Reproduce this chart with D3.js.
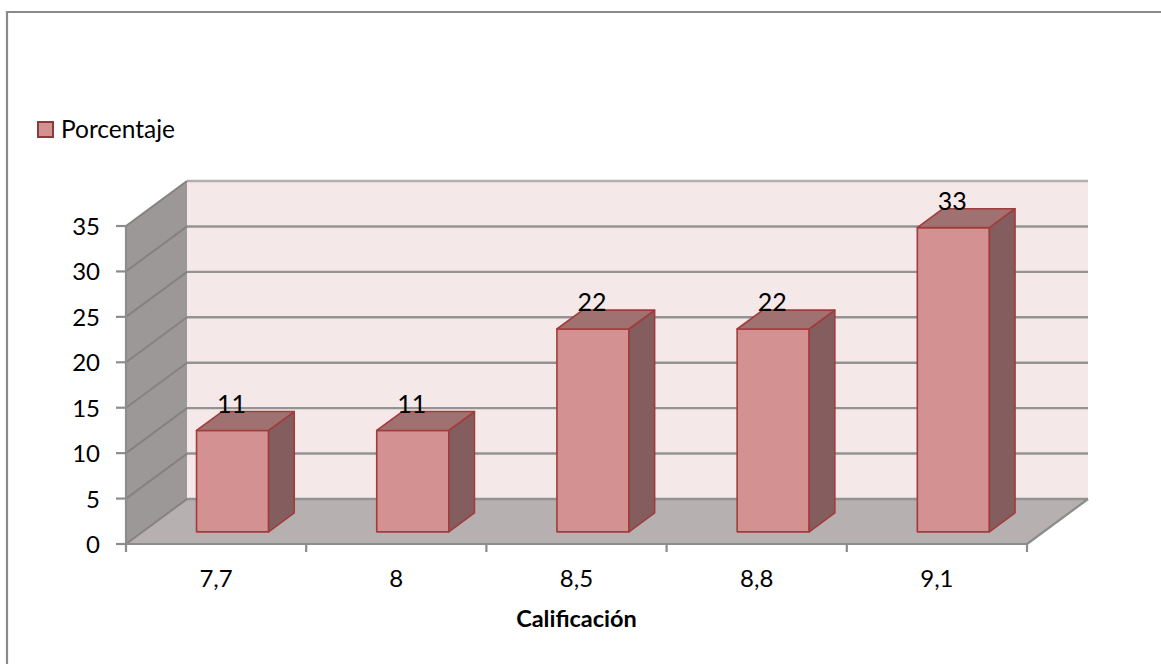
<!DOCTYPE html>
<html>
<head>
<meta charset="utf-8">
<script src="https://cdn.jsdelivr.net/npm/d3@7"></script>
<style>
  html, body { margin: 0; padding: 0; background: #ffffff; }
  svg { display: block; }
  text { font-family: Lato, "Open Sans", "Liberation Sans", sans-serif; fill: #000; }
</style>
</head>
<body>
<svg id="chart" width="1161" height="664"></svg>
<script>
// Chart data
const categories = ["7,7", "8", "8,5", "8,8", "9,1"];
const porcentaje = [11, 11, 22, 22, 33];
const yTicks = [0, 5, 10, 15, 20, 25, 30, 35];
const seriesName = "Porcentaje";
const axisTitle = "Calificación";

const svg = d3.select("#chart");

// Outer frame
svg.append("path")
  .attr("d", "M7,664 L7,12 L1161,12")
  .attr("fill", "none").attr("stroke", "#8a8a8a").attr("stroke-width", 2.2);

// Oblique 3D projection: x along the front axis, value up, depth d in [0,1] back
const DX = 61, DY = 45;
const xCat = d3.scaleBand().domain(categories).range([126, 1027]);
const xBar = d3.scaleBand().domain(categories).range([126, 1027])
  .paddingInner(0.6).paddingOuter(0.3);
const y = d3.scaleLinear().domain([0, 35]).range([544, 226]);
const yBar = d3.scaleLinear().domain([0, 35]).range([544, 544 - 35 * 9.22]);
const P = (x, yy, d) => [x + d * DX, yy - d * DY];
const poly = pts => "M" + pts.map(p => p.join(",")).join("L") + "Z";

const x0 = xCat.range()[0], x1 = xCat.range()[1];
const vMax = y.domain()[1];

// Side wall
svg.append("path")
  .attr("d", poly([P(x0, y(0), 0), P(x0, y(vMax), 0), P(x0, y(vMax), 1), P(x0, y(0), 1)]))
  .attr("fill", "#9c9898");

// Back wall
svg.append("path")
  .attr("d", poly([P(x0, y(0), 1), P(x0, y(vMax), 1), P(x1, y(vMax), 1), P(x1, y(0), 1)]))
  .attr("fill", "#f4e8e8");

// Floor
svg.append("path")
  .attr("d", poly([P(x0, y(0), 0), P(x1, y(0), 0), P(x1, y(0), 1), P(x0, y(0), 1)]))
  .attr("fill", "#b7b0b0");

// Gridlines on the back wall and the side wall
yTicks.forEach(v => {
  const a = P(x0, y(v), 1), b = P(x1, y(v), 1), c = P(x0, y(v), 0);
  svg.append("line")
    .attr("x1", a[0]).attr("y1", a[1]).attr("x2", b[0]).attr("y2", b[1])
    .attr("stroke", v === vMax ? "#b0b0b0" : "#939393").attr("stroke-width", 2.4);
  svg.append("line")
    .attr("x1", c[0]).attr("y1", c[1]).attr("x2", a[0]).attr("y2", a[1])
    .attr("stroke", "#868282").attr("stroke-width", 2);
});

// Floor edge on the right
{
  const a = P(x1, y(0), 0), b = P(x1, y(0), 1);
  svg.append("line")
    .attr("x1", a[0]).attr("y1", a[1]).attr("x2", b[0]).attr("y2", b[1])
    .attr("stroke", "#8c8c8c").attr("stroke-width", 2.2);
}

// Value axis
svg.append("line")
  .attr("x1", x0).attr("y1", y(vMax)).attr("x2", x0).attr("y2", y(0))
  .attr("stroke", "#8c8c8c").attr("stroke-width", 2.2);
const yAxis = svg.append("g");
yTicks.forEach(v => {
  yAxis.append("line")
    .attr("x1", x0 - 10).attr("y1", y(v)).attr("x2", x0).attr("y2", y(v))
    .attr("stroke", "#8c8c8c").attr("stroke-width", 2.2);
  yAxis.append("text")
    .attr("x", x0 - 26).attr("y", y(v) + 9)
    .attr("text-anchor", "end").attr("font-size", 24)
    .text(v);
});

// Category axis
svg.append("line")
  .attr("x1", x0).attr("y1", y(0)).attr("x2", x1).attr("y2", y(0))
  .attr("stroke", "#8c8c8c").attr("stroke-width", 2.2);
const tickXs = categories.map(c => xCat(c)).concat([x1]);
tickXs.forEach(tx => {
  svg.append("line")
    .attr("x1", tx).attr("y1", y(0)).attr("x2", tx).attr("y2", y(0) + 8)
    .attr("stroke", "#8c8c8c").attr("stroke-width", 2.2);
});
categories.forEach(c => {
  svg.append("text")
    .attr("x", xCat(c) + xCat.bandwidth() / 2).attr("y", 587)
    .attr("text-anchor", "middle").attr("font-size", 24)
    .text(c);
});
svg.append("text")
  .attr("x", (x0 + x1) / 2).attr("y", 627)
  .attr("text-anchor", "middle").attr("font-size", 23.5).attr("font-weight", "bold")
  .text(axisTitle);

// Columns
const D0 = 0.27, D1 = 0.69;
const stroke = "#a23c3c";
const bars = svg.append("g");
categories.forEach((c, i) => {
  const v = porcentaje[i];
  const xl = xBar(c), xr = xBar(c) + xBar.bandwidth();
  const b0 = yBar(0), t = yBar(v);
  // front face
  bars.append("path")
    .attr("d", poly([P(xl, b0, D0), P(xr, b0, D0), P(xr, t, D0), P(xl, t, D0)]))
    .attr("fill", "#d39191").attr("stroke", stroke).attr("stroke-width", 1.6)
    .attr("stroke-linejoin", "round");
  // right side
  bars.append("path")
    .attr("d", poly([P(xr, b0, D0), P(xr, t, D0), P(xr, t, D1), P(xr, b0, D1)]))
    .attr("fill", "#845e5e").attr("stroke", stroke).attr("stroke-width", 1.6)
    .attr("stroke-linejoin", "round");
  // top
  bars.append("path")
    .attr("d", poly([P(xl, t, D0), P(xr, t, D0), P(xr, t, D1), P(xl, t, D1)]))
    .attr("fill", "#a07171").attr("stroke", stroke).attr("stroke-width", 1.6)
    .attr("stroke-linejoin", "round");
  // value label
  const lp = P((xl + xr) / 2 - 1, t, D0);
  bars.append("text")
    .attr("x", lp[0]).attr("y", P(0, t, D1)[1] + 1)
    .attr("text-anchor", "middle").attr("font-size", 25)
    .text(v);
});

// Legend
svg.append("rect")
  .attr("x", 38).attr("y", 122).attr("width", 15).attr("height", 15)
  .attr("fill", "#d39191").attr("stroke", "#8e3a3a").attr("stroke-width", 2);
svg.append("text")
  .attr("x", 61).attr("y", 138).attr("font-size", 24.5)
  .text(seriesName);
</script>
</body>
</html>
